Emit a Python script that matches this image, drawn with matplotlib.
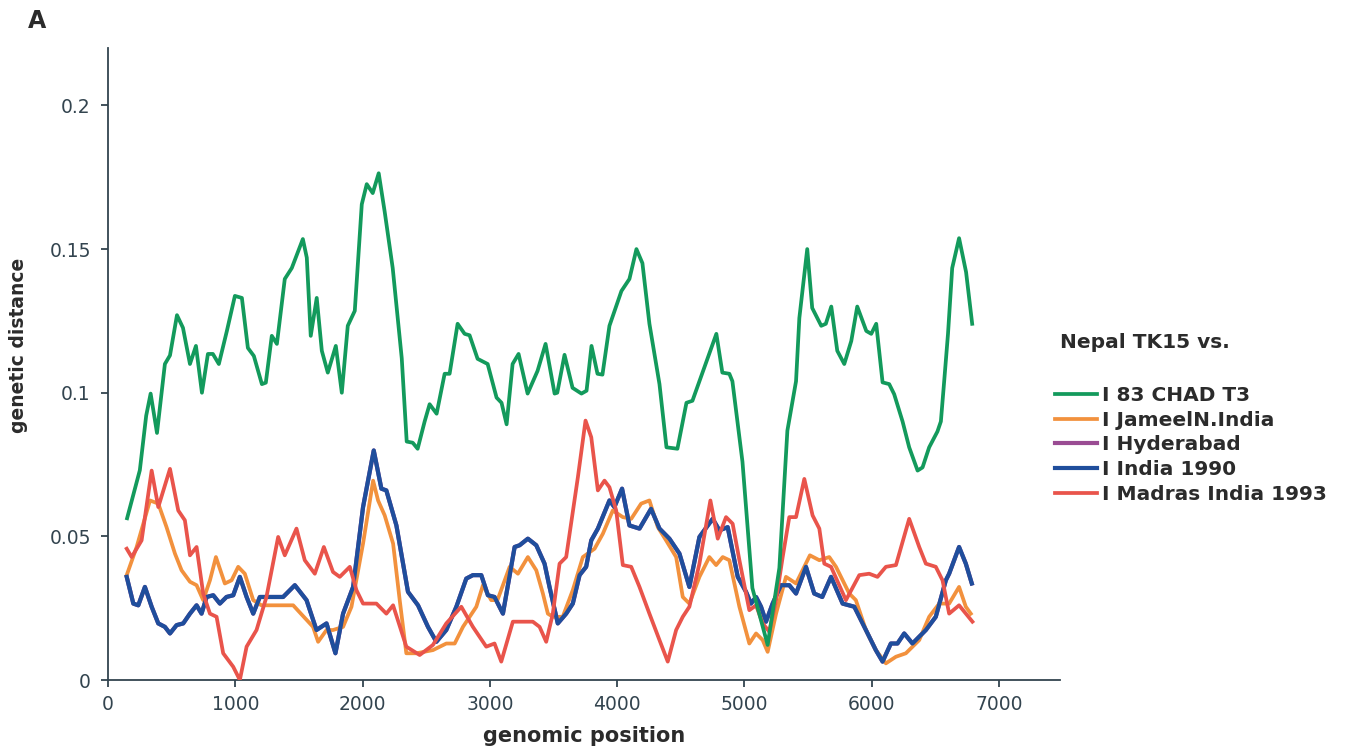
import numpy as np
import matplotlib
matplotlib.use("Agg")
import matplotlib.pyplot as plt

# values (genomic position, genetic distance)
chad_x = [150, 250, 300, 335, 385, 447, 487, 542, 589, 644, 691, 738, 785, 824, 871, 934, 997, 1052, 1099, 1146,
          1209, 1240, 1287, 1327, 1389, 1444, 1531, 1562, 1593, 1640, 1680, 1727, 1790, 1837, 1884, 1939, 1994, 2033,
          2080, 2127, 2174, 2237, 2308, 2347, 2394, 2433, 2488, 2527, 2582, 2645, 2684, 2747, 2802, 2841, 2904, 2983,
          3053, 3092, 3132, 3179, 3226, 3297, 3375, 3438, 3509, 3530, 3587, 3650, 3720, 3760, 3799, 3846, 3885, 3940,
          4034, 4097, 4152, 4199, 4254, 4333, 4388, 4474, 4545, 4592, 4780, 4827, 4882, 4906, 4985, 5063, 5183, 5275,
          5338, 5406, 5432, 5494, 5533, 5604, 5640, 5683, 5730, 5785, 5840, 5887, 5958, 5997, 6036, 6086, 6138, 6177,
          6243, 6295, 6361, 6400, 6452, 6517, 6544, 6570, 6600, 6633, 6687, 6742, 6790]
chad_y = [0.0563, 0.073, 0.092, 0.0997, 0.086, 0.110, 0.113, 0.127, 0.1226, 0.110, 0.1163, 0.100, 0.1135, 0.1135,
          0.110, 0.1215, 0.1337, 0.133, 0.1156, 0.1128, 0.103, 0.1035, 0.1198, 0.117, 0.1396, 0.1434, 0.1535, 0.147,
          0.1198, 0.133, 0.1146, 0.107, 0.1163, 0.100, 0.1233, 0.1285, 0.1656, 0.1726, 0.1695, 0.1764, 0.163, 0.1434,
          0.112, 0.083, 0.0826, 0.0805, 0.090, 0.096, 0.0927, 0.1066, 0.1066, 0.124, 0.1205, 0.120, 0.1118, 0.110,
          0.0983, 0.0965, 0.089, 0.110, 0.1135, 0.0997, 0.1076, 0.117, 0.0997, 0.100, 0.1132, 0.1017, 0.0997, 0.1007,
          0.1163, 0.1066, 0.1063, 0.1233, 0.1354, 0.1396, 0.150, 0.1451, 0.124, 0.103, 0.081, 0.0805, 0.0965, 0.0972,
          0.1205, 0.107, 0.1066, 0.104, 0.076, 0.032, 0.0122, 0.039, 0.0868, 0.104, 0.126, 0.150, 0.1295, 0.1233,
          0.124, 0.130, 0.1146, 0.110, 0.118, 0.130, 0.1215, 0.1205, 0.124, 0.1036, 0.103, 0.0995, 0.090, 0.081,
          0.0729, 0.074, 0.081, 0.0865, 0.090, 0.104, 0.1205, 0.1434, 0.1538, 0.142, 0.124]

jameel_x = [147, 225, 330, 395, 460, 526, 578, 644, 696, 748, 801, 848, 918, 971, 1023, 1075, 1141, 1206, 1455,
            1611, 1651, 1717, 1768, 1847, 1913, 2004, 2083, 2122, 2174, 2240, 2292, 2344, 2423, 2553, 2658, 2724,
            2789, 2894, 2946, 3011, 3060, 3156, 3221, 3299, 3365, 3417, 3456, 3495, 3573, 3652, 3731, 3823, 3888,
            3966, 4045, 4111, 4189, 4254, 4320, 4385, 4464, 4516, 4568, 4647, 4725, 4778, 4830, 4882, 4961, 5039,
            5092, 5144, 5183, 5249, 5327, 5406, 5515, 5589, 5667, 5720, 5824, 5876, 5955, 6033, 6112, 6191, 6269,
            6374, 6452, 6531, 6609, 6687, 6740, 6779]
jameel_y = [0.0365, 0.0463, 0.0625, 0.0614, 0.0532, 0.044, 0.0382, 0.0342, 0.033, 0.0278, 0.0347, 0.0428, 0.0336,
            0.0347, 0.0394, 0.037, 0.0278, 0.026, 0.026, 0.0185, 0.0133, 0.0174, 0.0174, 0.0185, 0.0255, 0.0475,
            0.0694, 0.0625, 0.0573, 0.0475, 0.0278, 0.0093, 0.0093, 0.0104, 0.0127, 0.0127, 0.0185, 0.0255, 0.033,
            0.0278, 0.0278, 0.0394, 0.037, 0.0428, 0.0382, 0.0301, 0.0231, 0.022, 0.022, 0.0313, 0.0428, 0.0457,
            0.0509, 0.059, 0.0567, 0.0561, 0.0614, 0.0625, 0.0532, 0.0486, 0.0428, 0.0289, 0.0266, 0.0359, 0.0428,
            0.040, 0.0428, 0.0417, 0.0255, 0.0127, 0.0162, 0.0139, 0.0098, 0.0231, 0.0359, 0.0336, 0.0434, 0.0417,
            0.0428, 0.0394, 0.0301, 0.0278, 0.0174, 0.0104, 0.0058, 0.0081, 0.0093, 0.0139, 0.022, 0.0266, 0.0266,
            0.0324, 0.0255, 0.0231]

india_x = [147, 199, 238, 290, 343, 395, 447, 487, 539, 591, 644, 696, 735, 775, 827, 879, 931, 984, 1036, 1089,
           1141, 1193, 1376, 1468, 1560, 1638, 1717, 1787, 1847, 1926, 2004, 2088, 2148, 2187, 2266, 2357, 2436,
           2514, 2580, 2658, 2737, 2815, 2867, 2933, 2985, 3037, 3103, 3195, 3234, 3299, 3365, 3430, 3469, 3534,
           3600, 3652, 3705, 3757, 3797, 3849, 3940, 3979, 4039, 4097, 4176, 4267, 4333, 4411, 4490, 4568, 4647,
           4751, 4804, 4869, 4948, 5013, 5052, 5092, 5131, 5170, 5222, 5288, 5353, 5406, 5484, 5549, 5612, 5681,
           5772, 5864, 5955, 6033, 6086, 6151, 6203, 6256, 6321, 6426, 6504, 6583, 6609, 6687, 6740, 6787]
india_y = [0.0359, 0.0266, 0.026, 0.0324, 0.0255, 0.0197, 0.0185, 0.0162, 0.0191, 0.0197, 0.0231, 0.026, 0.0231,
           0.0289, 0.0295, 0.0266, 0.0289, 0.0295, 0.0359, 0.0289, 0.0231, 0.0289, 0.0289, 0.033, 0.0278, 0.0174,
           0.0197, 0.0093, 0.0231, 0.0324, 0.0602, 0.0799, 0.0666, 0.066, 0.0538, 0.0307, 0.026, 0.0185, 0.0133,
           0.0174, 0.0255, 0.0353, 0.0365, 0.0365, 0.0295, 0.0289, 0.0231, 0.0463, 0.0469, 0.0492, 0.0469, 0.0405,
           0.0324, 0.0197, 0.0231, 0.0266, 0.0365, 0.0394, 0.0486, 0.0527, 0.0625, 0.0602, 0.0666, 0.0538, 0.0527,
           0.0596, 0.0527, 0.0492, 0.044, 0.0324, 0.0498, 0.0561, 0.0521, 0.0532, 0.0359, 0.0307, 0.0266, 0.0289,
           0.0255, 0.0203, 0.0266, 0.033, 0.033, 0.0301, 0.0394, 0.0301, 0.0289, 0.0359, 0.0266, 0.0255, 0.0174,
           0.0104, 0.0064, 0.0127, 0.0127, 0.0162, 0.0127, 0.0174, 0.022, 0.0347, 0.037, 0.0463, 0.0405, 0.0336]

# Hyderabad is hidden under India 1990 in the figure
hyder_x = india_x
hyder_y = india_y

madras_x = [147, 186, 264, 343, 395, 487, 552, 604, 644, 696, 748, 801, 853, 905, 984, 1036, 1089, 1167, 1245,
            1337, 1389, 1481, 1546, 1625, 1696, 1768, 1821, 1900, 1952, 2004, 2109, 2187, 2240, 2344, 2449, 2553,
            2658, 2776, 2867, 2972, 3037, 3090, 3181, 3338, 3391, 3443, 3495, 3548, 3600, 3692, 3752, 3797, 3849,
            3901, 3940, 3993, 4045, 4111, 4176, 4254, 4333, 4398, 4464, 4516, 4568, 4647, 4733, 4791, 4856, 4908,
            4961, 5039, 5092, 5144, 5196, 5249, 5301, 5353, 5406, 5471, 5536, 5589, 5628, 5681, 5798, 5903, 5981,
            6046, 6112, 6191, 6295, 6374, 6426, 6504, 6557, 6609, 6687, 6792]
madras_y = [0.0457, 0.0428, 0.0486, 0.0729, 0.0602, 0.0735, 0.059, 0.0556, 0.0434, 0.0463, 0.0301, 0.0231, 0.022,
            0.0093, 0.0046, 0.0, 0.0116, 0.0174, 0.0289, 0.0498, 0.0434, 0.0527, 0.0417, 0.037, 0.0463, 0.0376,
            0.0359, 0.0394, 0.0313, 0.0266, 0.0266, 0.0231, 0.026, 0.0116, 0.0087, 0.0122, 0.0197, 0.0255, 0.0185,
            0.0116, 0.0127, 0.0064, 0.0203, 0.0203, 0.0185, 0.0133, 0.0231, 0.0405, 0.0428, 0.0706, 0.0903, 0.0845,
            0.066, 0.0694, 0.0671, 0.059, 0.040, 0.0394, 0.0324, 0.0231, 0.0139, 0.0064, 0.0174, 0.022, 0.0255,
            0.0405, 0.0625, 0.0492, 0.0567, 0.0544, 0.0417, 0.0243, 0.026, 0.0197, 0.0168, 0.0278, 0.0428, 0.0567,
            0.0567, 0.070, 0.0573, 0.0527, 0.0405, 0.0394, 0.0278, 0.0365, 0.037, 0.0359, 0.0394, 0.040, 0.0561,
            0.0463, 0.0405, 0.0394, 0.0347, 0.0231, 0.026, 0.0203]

labels = ["I 83 CHAD T3", "I JameelN.India", "I Hyderabad", "I India 1990", "I Madras India 1993"]
colors = ["#139a5c", "#f2913d", "#9a4c93", "#1f4e9c", "#e9544b"]

axis_col = "#33444f"
text_col = "#2b2b2b"

fig = plt.figure(figsize=(13.52, 7.48), dpi=100)
ax = fig.add_axes([108 / 1352, 68 / 748, 952 / 1352, 632 / 748])

series = [(chad_x, chad_y), (jameel_x, jameel_y), (hyder_x, hyder_y), (india_x, india_y), (madras_x, madras_y)]
widths = [2.7, 2.7, 3.0, 3.0, 2.7]
order = [2, 1, 3, 4, 0]
handles = [None] * 5
for i in order:
    xs, ys = series[i]
    ln, = ax.plot(xs, ys, color=colors[i], lw=widths[i], solid_joinstyle="round", label=labels[i],
                  zorder=2 + order.index(i))
    handles[i] = ln

ax.set_xlim(0, 7480)
ax.set_ylim(0, 0.22)
ax.set_xticks(np.arange(0, 8000, 1000))
ax.set_yticks([0, 0.05, 0.1, 0.15, 0.2])
ax.set_yticklabels(["0", "0.05", "0.1", "0.15", "0.2"])

for s in ["top", "right"]:
    ax.spines[s].set_visible(False)
for s in ["left", "bottom"]:
    ax.spines[s].set_color(axis_col)
    ax.spines[s].set_linewidth(1.3)
ax.tick_params(colors=axis_col, labelcolor=axis_col, labelsize=13.5, length=5, width=1.3, direction="out")
ax.tick_params(axis="y", pad=7.4)
ax.tick_params(axis="x", pad=6)

ax.set_xlabel("genomic position", fontsize=15, fontweight="bold", color=text_col, va="top")
ax.xaxis.set_label_coords(0.5, -0.072)
ax.set_ylabel("genetic distance", fontsize=13.5, fontweight="bold", color=text_col)
ax.yaxis.set_label_coords(-0.084, 0.53)

fig.text(28 / 1352, 1 - 21 / 748, "A", fontsize=17, fontweight="bold", color=text_col, va="center")

fig.text(1060 / 1352, 1 - 343 / 748, "Nepal TK15 vs.", fontsize=14.5, fontweight="bold", color=text_col,
         va="center")
leg = fig.legend(handles=handles, labels=labels, loc="upper left", bbox_to_anchor=(1055 / 1352, 1 - 386 / 748),
                 frameon=False, handlelength=2.1, handletextpad=0.25, labelspacing=0.28,
                 borderpad=0, borderaxespad=0, prop={"weight": "bold", "size": 14.5})
for t in leg.get_texts():
    t.set_color(text_col)

fig.savefig("out.png", dpi=100)
